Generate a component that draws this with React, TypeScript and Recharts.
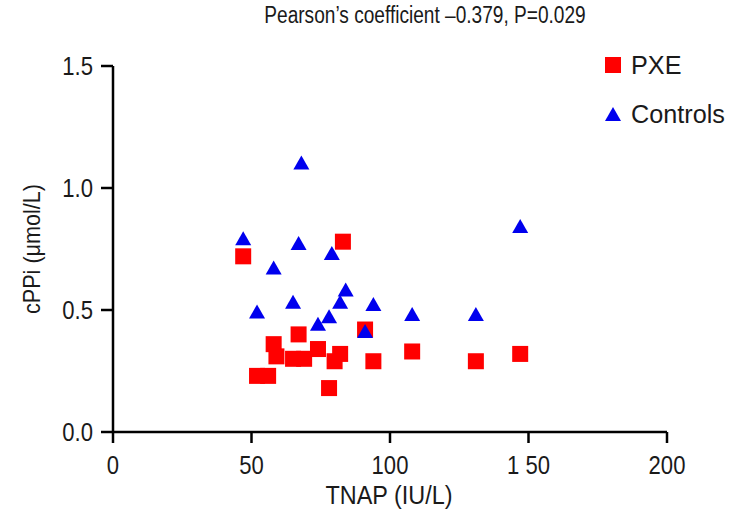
import { Scatter, ScatterChart, XAxis, YAxis } from "recharts";

const pxeTnap = [47, 83, 91, 67, 58, 59, 65, 69, 74, 82, 80, 52, 56, 78, 94, 108, 131, 147];
const pxeCppi = [0.72, 0.78, 0.42, 0.4, 0.36, 0.31, 0.3, 0.3, 0.34, 0.32, 0.29, 0.23, 0.23, 0.18, 0.29, 0.33, 0.29, 0.32];

const controlTnap = [47, 58, 67, 68, 79, 147, 65, 52, 84, 82, 94, 108, 131, 78, 74, 91];
const controlCppi = [0.79, 0.67, 0.77, 1.1, 0.73, 0.84, 0.53, 0.49, 0.58, 0.53, 0.52, 0.48, 0.48, 0.47, 0.44, 0.41];

const xTicks = [0, 50, 100, 150, 200];
const xTickLabels = ["0", "50", "100", "1 50", "200"];
const yTicks = [0, 0.5, 1.0, 1.5];
const yTickLabels = ["0.0", "0.5", "1.0", "1.5"];

const TITLE = "Pearson’s coefficient –0.379, P=0.029";
const X_LABEL = "TNAP (IU/L)";
const Y_LABEL = "cPPi (μmol/L)";

const RED = "#ff0000";
const BLUE = "#0000ee";
const INK = "#1a1a1a";
const FONT = "'Liberation Sans', Arial, Helvetica, sans-serif";
const TICK_SQUEEZE = 0.85;
const LABEL_SQUEEZE = 0.9;

const pxeData = pxeTnap.map((x, i) => ({ x, y: pxeCppi[i] }));
const controlData = controlTnap.map((x, i) => ({ x, y: controlCppi[i] }));

function SquareMark(props: any) {
  const { cx, cy } = props;
  if (cx == null || cy == null) return null;
  return <rect x={cx - 8} y={cy - 8} width={16} height={16} fill={RED} />;
}

function TriangleMark(props: any) {
  const { cx, cy } = props;
  if (cx == null || cy == null) return null;
  const pts = `${cx},${cy - 8} ${cx + 8},${cy + 6} ${cx - 8},${cy + 6}`;
  return <polygon points={pts} fill={BLUE} />;
}

function XTick({ x, y, payload }: any) {
  const idx = xTicks.indexOf(payload.value);
  return (
    <g transform={`translate(${x},${y}) scale(${TICK_SQUEEZE},1)`}>
      <text x={0} y={0} dy="0.75em" textAnchor="middle" fill={INK} fontSize={26} fontFamily={FONT}>
        {xTickLabels[idx]}
      </text>
    </g>
  );
}

function YTick({ x, y, payload }: any) {
  const idx = yTicks.indexOf(payload.value);
  return (
    <g transform={`translate(${x},${y}) scale(${TICK_SQUEEZE},1)`}>
      <text x={0} y={0} dy="0.36em" textAnchor="end" fill={INK} fontSize={26} fontFamily={FONT}>
        {yTickLabels[idx]}
      </text>
    </g>
  );
}

function LegendBox() {
  const row = { display: "flex", alignItems: "center", height: 28 } as const;
  const text = {
    fontSize: 26,
    fontFamily: FONT,
    color: INK,
    marginLeft: 10,
    transform: "scaleX(0.97)",
    transformOrigin: "left center",
    whiteSpace: "nowrap",
  } as const;
  return (
    <div style={{ position: "absolute", left: 605, top: 51 }}>
      <div style={row}>
        <svg width={16} height={16}>
          <rect x={0} y={0} width={16} height={16} fill={RED} />
        </svg>
        <span style={text}>PXE</span>
      </div>
      <div style={{ ...row, marginTop: 21 }}>
        <svg width={16} height={16}>
          <polygon points="8,1 16,15 0,15" fill={BLUE} />
        </svg>
        <span style={text}>Controls</span>
      </div>
    </div>
  );
}

export default function App() {
  const axisStroke = { stroke: "#000", strokeWidth: 2.5 };
  return (
    <div style={{ position: "absolute", left: 0, top: 0, width: 744, height: 520, background: "#fff" }}>
      <div
        style={{
          position: "absolute",
          left: 425,
          top: 2,
          fontSize: 23,
          fontFamily: FONT,
          color: INK,
          transform: "translateX(-50%) scaleX(0.83)",
          whiteSpace: "nowrap",
        }}
      >
        {TITLE}
      </div>
      <div
        style={{
          position: "absolute",
          left: 389,
          top: 480,
          fontSize: 26,
          fontFamily: FONT,
          color: INK,
          transform: `translateX(-50%) scaleX(${LABEL_SQUEEZE})`,
          whiteSpace: "nowrap",
        }}
      >
        {X_LABEL}
      </div>
      <div
        style={{
          position: "absolute",
          left: 32,
          top: 249,
          fontSize: 24,
          fontFamily: FONT,
          color: INK,
          transform: `translate(-50%, -50%) rotate(-90deg) scaleX(${LABEL_SQUEEZE})`,
          whiteSpace: "nowrap",
        }}
      >
        {Y_LABEL}
      </div>
      <LegendBox />
      <ScatterChart width={744} height={520} margin={{ top: 66, right: 77, bottom: 0, left: 0 }}>
        <XAxis
          type="number"
          dataKey="x"
          domain={[0, 200]}
          ticks={xTicks}
          height={88}
          axisLine={axisStroke}
          tickLine={axisStroke}
          tickSize={11}
          tickMargin={11}
          tick={<XTick />}
          interval={0}
        />
        <YAxis
          type="number"
          dataKey="y"
          domain={[0, 1.5]}
          ticks={yTicks}
          width={113}
          axisLine={axisStroke}
          tickLine={axisStroke}
          tickSize={12}
          tickMargin={8}
          tick={<YTick />}
          interval={0}
        />
        <Scatter name="PXE" data={pxeData} shape={<SquareMark />} isAnimationActive={false} />
        <Scatter name="Controls" data={controlData} shape={<TriangleMark />} isAnimationActive={false} />
      </ScatterChart>
    </div>
  );
}
